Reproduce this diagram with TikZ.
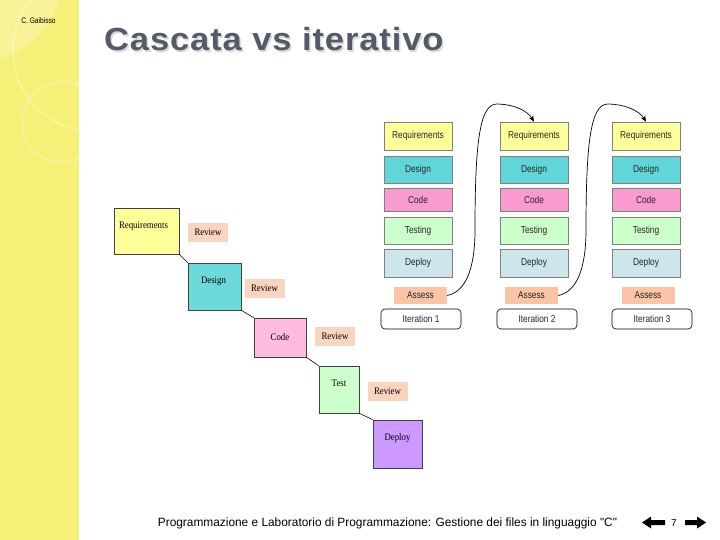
\documentclass[tikz,border=0pt]{standalone}
\usepackage{fontspec}
\setmainfont{Liberation Serif}
\newfontfamily\arial{Liberation Sans}
\newfontfamily\titlefont[LetterSpace=2.5]{Liberation Sans Bold}
\usetikzlibrary{arrows.meta,shadows}
\newcommand{\nar}[1]{\scalebox{0.83}[1]{#1}}
\newcommand{\sern}[1]{\scalebox{0.88}[1]{#1}}
\definecolor{strip}{RGB}{246,240,120}
\definecolor{striplight}{RGB}{249,245,170}
\definecolor{titlecol}{RGB}{84,90,104}
\definecolor{wreq}{RGB}{255,255,153}
\definecolor{wdes}{RGB}{108,217,218}
\definecolor{wcode}{RGB}{255,187,224}
\definecolor{wtest}{RGB}{204,255,204}
\definecolor{wdep}{RGB}{204,153,255}
\definecolor{revpeach}{RGB}{249,212,190}
\definecolor{ireq}{RGB}{255,255,153}
\definecolor{ides}{RGB}{96,214,216}
\definecolor{icode}{RGB}{250,155,205}
\definecolor{itest}{RGB}{204,255,204}
\definecolor{idep}{RGB}{205,230,236}
\definecolor{iass}{RGB}{251,196,164}
\tikzset{
  wbox/.style={draw=black!75, line width=0.7pt, inner sep=0pt},
  wlab/.style={font=\fontsize{10}{11}\selectfont, text=black},
  rev/.style={fill=revpeach, inner sep=0pt, minimum width=40pt, minimum height=19pt, font=\fontsize{10}{11}\selectfont},
  ibox/.style={draw=black!50, line width=0.6pt, minimum width=68pt, inner sep=0pt,
    font=\arial\fontsize{10}{11}\selectfont, text=black!85,
    drop shadow={shadow xshift=1pt, shadow yshift=-1pt, fill=black!25}},
  iass/.style={fill=iass, minimum width=53pt, minimum height=17pt, inner sep=0pt,
    font=\arial\fontsize{10}{11}\selectfont, text=black!85},
  iter/.style={draw=black, line width=0.6pt, rounded corners=4pt, minimum width=80pt, minimum height=20pt,
    inner sep=0pt, font=\arial\fontsize{10}{11}\selectfont, text=black!85},
  wline/.style={draw=black, line width=0.6pt},
  curve/.style={draw=black, line width=0.7pt, -{Stealth[length=6pt,width=5pt]}},
}
\begin{document}
\begin{tikzpicture}[x=1pt,y=-1pt]
\useasboundingbox (0,0) rectangle (720,540);
\fill[white] (0,0) rectangle (720,540);
% left strip
\fill[strip] (0,0) rectangle (79,540);
\begin{scope}
  \clip (0,0) rectangle (79,540);
  \fill[striplight, opacity=0.6] (-25,-25) circle (88);
  \draw[white, opacity=0.35, line width=1.5pt] (95,50) circle (82);
  \draw[striplight, opacity=0.5, line width=3pt] (62,122) circle (40);
\end{scope}
\node[font=\arial\fontsize{8}{9}\selectfont, text=black] (author) at (38.5,21) {\nar{C. Gaibisso}};
% title
\node[font=\titlefont\fontsize{32}{36}\selectfont, text=black!15, anchor=base west, inner sep=0pt] (titlesh) at (105.5,52.5) {\scalebox{1.08}[1]{Cascata vs iterativo}};
\node[font=\titlefont\fontsize{32}{36}\selectfont, text=titlecol, anchor=base west, inner sep=0pt] (title) at (104,51) {\scalebox{1.08}[1]{Cascata vs iterativo}};
% waterfall
\node[wbox, fill=wreq, minimum width=65pt, minimum height=46pt, label={[wlab,yshift=5pt,xshift=-3pt]center:\sern{Requirements}}] (wr) at (146.5,231) {};
\node[wbox, fill=wdes, minimum width=53pt, minimum height=47pt, label={[wlab,yshift=5.5pt,xshift=-1pt]center:\sern{Design}}] (wd) at (214.5,286.5) {};
\node[wbox, fill=wcode, minimum width=52pt, minimum height=39pt, label={[wlab]center:\sern{Code}}] (wc) at (280,337.5) {};
\node[wbox, fill=wtest, minimum width=40pt, minimum height=47pt, label={[wlab,yshift=6.5pt]center:\sern{Test}}] (wt) at (339,389.5) {};
\node[wbox, fill=wdep, minimum width=49pt, minimum height=48pt, label={[wlab,yshift=6pt]center:\sern{Deploy}}] (wp) at (397.5,444) {};
\node[rev] (rv1) at (208,232.5) {\sern{Review}};
\node[rev] (rv2) at (264.5,288) {\sern{Review}};
\node[rev] (rv3) at (335,336) {\sern{Review}};
\node[rev] (rv4) at (387.5,391.5) {\sern{Review}};
\draw[wline] (wr.south east) -- (wd.north west);
\draw[wline] (wd.south east) -- (wc.north west);
\draw[wline] (wc.south east) -- (wt.north west);
\draw[wline] (wt.south east) -- (wp.north west);
% iterative columns
\foreach \i/\x/\ax/\tx in {1/418/420.5/421, 2/534/531.5/537, 3/646/648/652}{
  \node[ibox, fill=ireq, minimum height=28pt] (q\i) at (\x,136) {\nar{Requirements}};
  \node[ibox, fill=ides, minimum height=27pt] (d\i) at (\x,169.5) {\nar{Design}};
  \node[ibox, fill=icode, minimum height=23pt] (c\i) at (\x,199.5) {\nar{Code}};
  \node[ibox, fill=itest, minimum height=27pt] (t\i) at (\x,230.5) {\nar{Testing}};
  \node[ibox, fill=idep, minimum height=28pt] (p\i) at (\x,263) {\nar{Deploy}};
  \node[iass] (a\i) at (\ax,295.5) {\nar{Assess}};
  \node[iter] (it\i) at (\tx,319) {\nar{Iteration \i}};
}
% loop-back arrows
\draw[curve] (a1.east) .. controls (465,292) and (475,270) .. (475,230)
   .. controls (475,140) and (480,104) .. (497,104)
   .. controls (512,104) and (527,110) .. (q2.north);
\draw[curve] (a2.east) .. controls (576,292) and (586,270) .. (586,230)
   .. controls (586,140) and (591,104) .. (608,104)
   .. controls (623,104) and (639,110) .. (q3.north);
% footer
\node[font=\arial\fontsize{12}{14}\selectfont, text=black] (footer) at (387.5,523) {\scalebox{0.99}[1]{Programmazione e Laboratorio di Programmazione: Gestione dei files in linguaggio "C"}};
\fill[black] (642,522.5) -- (651,516.5) -- (651,520) -- (665,520) -- (665,525) -- (651,525) -- (651,528.5) -- cycle;
\node[font=\arial\fontsize{10}{12}\selectfont, text=black] (pnum) at (674,523) {7};
\fill[black] (706,522.5) -- (697,516.5) -- (697,520) -- (685,520) -- (685,525) -- (697,525) -- (697,528.5) -- cycle;
\end{tikzpicture}
\end{document}
